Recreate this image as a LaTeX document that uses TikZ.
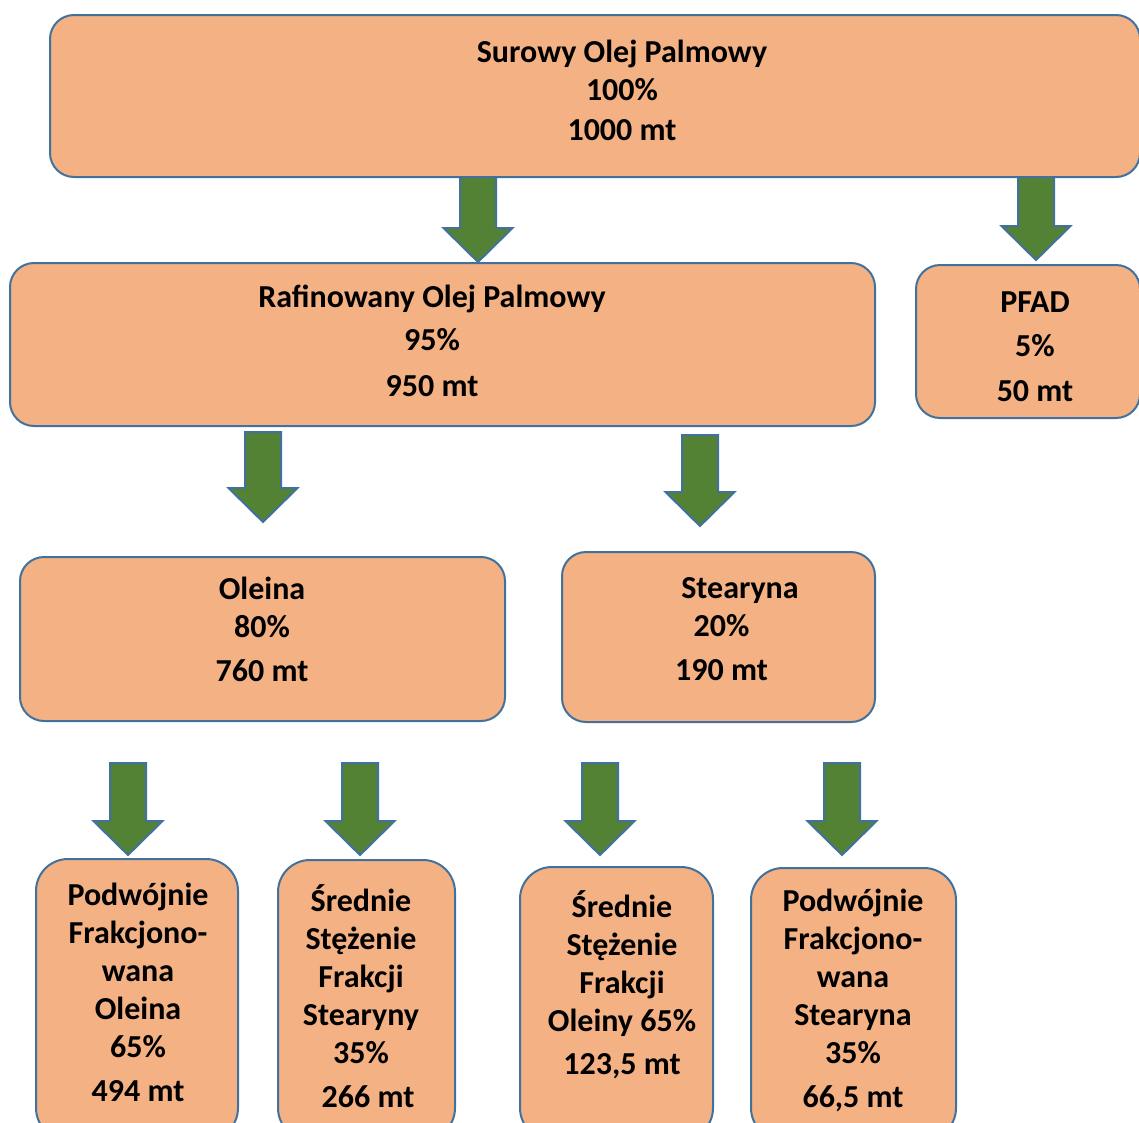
\documentclass[tikz,border=0pt]{standalone}
\usepackage{fontspec}
\setmainfont{Carlito}
\definecolor{oranz}{HTML}{F4B183}
\definecolor{ramka}{HTML}{41719C}
\definecolor{zielen}{HTML}{548235}
\tikzset{
  box/.style={draw=ramka,line width=2pt,fill=oranz,rounded corners=24pt,inner sep=0pt,outer sep=0pt},
  boxmaly/.style={box,rounded corners=32pt},
  txt/.style={align=center,inner sep=0pt,font=\fontsize{32}{38}\selectfont\bfseries},
  strz/.style={draw=ramka,line width=2pt,fill=zielen,line join=miter}
}
\newcommand\strzalka[3]{\draw[strz] (#1-18,#2) -- (#1+18,#2) -- (#1+18,#3-34) -- (#1+34.5,#3-34) -- (#1,#3) -- (#1-34.5,#3-34) -- (#1-18,#3-34) -- cycle;}
\begin{document}
\begin{tikzpicture}[x=1pt,y=-1pt]
  \useasboundingbox (0,0) rectangle (1139,1122);
  \clip (0,0) rectangle (1139,1122);
  \node[box,minimum width=1090,minimum height=162] (surowy) at (595,96) {};
  \node[box,minimum width=865,minimum height=163] (rafin) at (442.5,344.5) {};
  \node[box,minimum width=224,minimum height=153] (pfad) at (1028,341.5) {};
  \node[box,minimum width=485,minimum height=164] (oleina) at (262.5,639) {};
  \node[box,minimum width=313,minimum height=170] (stearyna) at (718.5,637) {};
  \node[boxmaly,minimum width=202,minimum height=281] (pfo) at (137,999.5) {};
  \node[boxmaly,minimum width=177,minimum height=280] (ssfs) at (366.5,1000) {};
  \node[boxmaly,minimum width=193,minimum height=273] (ssfo) at (616.5,1003.5) {};
  \node[boxmaly,minimum width=205,minimum height=272] (pfs) at (853.5,1004) {};
  \node[txt] (tsurowy) at (622,90.5) {Surowy Olej Palmowy\\100\%\\[2pt]1000 mt};
  \node[txt] (trafin) at (432,340.5) {Rafinowany Olej Palmowy\\[5pt]95\%\\[8pt]950 mt};
  \node[txt] (tpfad) at (1035,346.5) {PFAD\\[6pt]5\%\\[7pt]50 mt};
  \node[txt] (toleina) at (262,629.5) {Oleina\\80\%\\[6pt]760 mt};
  \node[txt] (tstearyna) at (721.5,629.5) {\hspace*{37pt}Stearyna\\20\%\\[6pt]190 mt};
  \node[txt] (tpfo) at (138,992) {Podwójnie\\Frakcjono-\\wana\\Oleina\\65\%\\[6pt]494 mt};
  \node[txt] (tssfs) at (361,996) {Średnie\\Stężenie\\Frakcji\\Stearyny\\35\%\\[6pt]\hspace*{14pt}266 mt};
  \node[txt] (tssfo) at (622,985) {Średnie\\Stężenie\\Frakcji\\Oleiny 65\%\\[5pt]123,5 mt};
  \node[txt] (tpfs) at (853,1000.5) {Podwójnie\\Frakcjono-\\wana\\Stearyna\\35\%\\[6pt]66,5 mt};
  \strzalka{478}{177}{262}
  \strzalka{1036}{177}{260}
  \strzalka{263}{432}{522}
  \strzalka{700}{435}{526}
  \strzalka{128}{763}{855}
  \strzalka{360}{763}{855}
  \strzalka{600}{763}{855}
  \strzalka{842}{763}{855}
\end{tikzpicture}
\end{document}
